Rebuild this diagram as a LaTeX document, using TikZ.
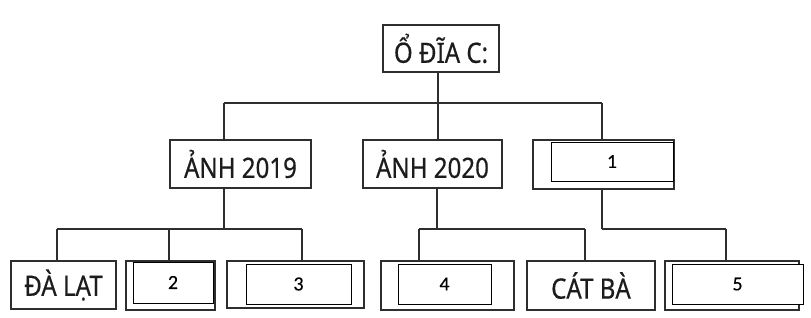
\documentclass[tikz,border=0pt]{standalone}
\usepackage{fontspec}
\setmainfont{Noto Sans}[FakeStretch=0.86,FakeBold=0.5]
\newfontfamily\numfont{Carlito}[FakeBold=0.3]
\definecolor{boxline}{HTML}{2E2E2E}
\definecolor{txt}{HTML}{1C1C1C}
\tikzset{
  outerbox/.style={draw=boxline, line width=1.9pt, fill=white, inner sep=0pt, text=txt,
     font=\fontsize{28}{31}\selectfont},
  innerbox/.style={draw=black, line width=1pt, fill=white, inner sep=0pt, text=black,
     font=\numfont\fontsize{20}{23}\selectfont},
  conn/.style={draw=boxline, line width=1.9pt}
}
\begin{document}
\begin{tikzpicture}[x=1pt,y=-1pt]
\useasboundingbox (0,0) rectangle (811,317);
% connector junctions
\coordinate (r0) at (438,103);
\coordinate (bL) at (224,103);
\coordinate (bR) at (602,103);
\coordinate (j1) at (224,229);
\coordinate (j2) at (437,229);
\coordinate (j3) at (602,229);
\coordinate (c1) at (57,229);
\coordinate (c2) at (169,229);
\coordinate (c3) at (302,229);
\coordinate (c4) at (419,229);
\coordinate (c5) at (585,229);
\coordinate (c6) at (726,229);
% nodes
\node[outerbox, minimum width=116pt, minimum height=47pt] (root) at (441,48.5) {Ổ ĐĨA C:};
\node[outerbox, minimum width=141pt, minimum height=48pt] (a2019) at (240.5,164) {ẢNH 2019};
\node[outerbox, minimum width=139pt, minimum height=48pt] (a2020) at (432.5,164) {ẢNH 2020};
\node[outerbox, minimum width=141pt, minimum height=49pt] (one) at (603.5,164.5) {};
\node[innerbox, minimum width=122pt, minimum height=39pt] (onein) at (612,161.5) {1};
\node[outerbox, minimum width=105pt, minimum height=48pt] (dalat) at (63.5,285) {ĐÀ LẠT};
\node[outerbox, minimum width=89pt, minimum height=49pt] (two) at (170.5,285.5) {};
\node[innerbox, minimum width=80pt, minimum height=41pt] (twoin) at (173,282.5) {2};
\node[outerbox, minimum width=137pt, minimum height=47pt] (three) at (295.5,284.5) {};
\node[innerbox, minimum width=105pt, minimum height=40pt] (threein) at (298.5,284) {3};
\node[outerbox, minimum width=133pt, minimum height=49pt] (four) at (447.5,285.5) {};
\node[innerbox, minimum width=93pt, minimum height=40pt] (fourin) at (444.5,284) {4};
\node[outerbox, minimum width=128pt, minimum height=49pt] (catba) at (591,285.5) {CÁT BÀ};
\node[outerbox, minimum width=134pt, minimum height=49pt] (five) at (732,285.5) {};
\node[innerbox, minimum width=131pt, minimum height=40pt] (fivein) at (737.5,284) {5};
% connectors
\draw[conn] (root.south -| r0) -- (r0);
\draw[conn] (bL) -- (bR);
\draw[conn] (bL) -- (a2019.north -| bL);
\draw[conn] (r0) -- (a2020.north -| r0);
\draw[conn] (bR) -- (one.north -| bR);
\draw[conn] (a2019.south -| j1) -- (j1);
\draw[conn] (a2020.south -| j2) -- (j2);
\draw[conn] (one.south -| j3) -- (j3);
\draw[conn] (c1) -- (c3);
\draw[conn] (c4) -- (c5);
\draw[conn] (j3) -- (c6);
\draw[conn] (c1) -- (dalat.north -| c1);
\draw[conn] (c2) -- (two.north -| c2);
\draw[conn] (c3) -- (three.north -| c3);
\draw[conn] (c4) -- (four.north -| c4);
\draw[conn] (c5) -- (catba.north -| c5);
\draw[conn] (c6) -- (five.north -| c6);
\end{tikzpicture}
\end{document}
